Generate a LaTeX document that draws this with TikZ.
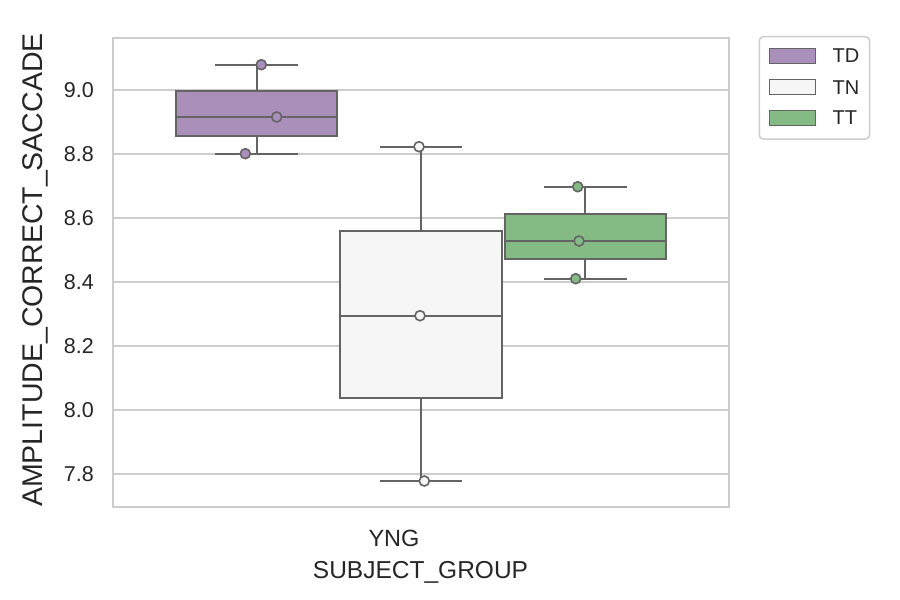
\documentclass[tikz,border=0pt]{standalone}
\usepackage{fontspec}
\setmainfont{Liberation Sans}
\definecolor{tdc}{RGB}{171,143,187}
\definecolor{tnc}{RGB}{246,246,246}
\definecolor{ttc}{RGB}{132,187,132}
\definecolor{linec}{RGB}{100,100,100}
\definecolor{gridc}{RGB}{204,204,204}
\definecolor{txtc}{RGB}{38,38,38}
\tikzset{
  gridl/.style={draw=gridc, line width=1.5pt},
  spine/.style={draw=gridc, line width=2pt},
  boxl/.style={draw=linec, line width=2pt},
  whisk/.style={draw=linec, line width=2pt},
  dotpt/.style={circle, draw=linec, line width=1.6pt, minimum size=10pt, inner sep=0pt},
  ticklab/.style={text=txtc, font=\fontsize{21.5}{24}\selectfont, inner sep=0pt},
  axlab/.style={text=txtc, inner sep=0pt},
  legpatch/.style={draw=linec, line width=0.8pt},
  legtxt/.style={text=txtc, font=\fontsize{20}{22}\selectfont, inner sep=0pt, anchor=west},
}
\begin{document}
\begin{tikzpicture}[x=1pt,y=-1pt]
\useasboundingbox (0,0) rectangle (900,600);
\fill[white] (0,0) rectangle (900,600);
% grid
\foreach \k in {0,...,6} \draw[gridl] (113,90+64*\k) -- (729,90+64*\k);
% spines
\draw[spine] (113,38) rectangle (729,507);
% y tick labels
\node[ticklab, anchor=east] (t90) at (94,90) {9.0};
\node[ticklab, anchor=east] (t88) at (94,154) {8.8};
\node[ticklab, anchor=east] (t86) at (94,218) {8.6};
\node[ticklab, anchor=east] (t84) at (94,282) {8.4};
\node[ticklab, anchor=east] (t82) at (94,346) {8.2};
\node[ticklab, anchor=east] (t80) at (94,410) {8.0};
\node[ticklab, anchor=east] (t78) at (94,474) {7.8};
% axis labels
\node[axlab, anchor=base, rotate=90, font=\fontsize{28.5}{30}\selectfont] (ylab) at (42,270) {AMPLITUDE\_CORRECT\_SACCADE};
\node[axlab, anchor=base, font=\fontsize{23.5}{26}\selectfont] (xtick) at (394,546.5) {YNG};
\node[axlab, anchor=base, font=\fontsize{24.5}{26}\selectfont] (xlab) at (420.5,578.3) {SUBJECT\_GROUP};
% TD box
\draw[whisk] (256.5,90.7) -- (256.5,64.7);
\draw[whisk] (215,64.7) -- (297.5,64.7);
\draw[whisk] (256.5,136) -- (256.5,153.7);
\draw[whisk] (215,153.7) -- (297.5,153.7);
\filldraw[boxl, fill=tdc] (175.7,90.7) rectangle (337.3,136);
\draw[whisk] (175.7,117) -- (337.3,117);
\node[dotpt, fill=tdc] (td1) at (261.3,64.7) {};
\node[dotpt, fill=tdc] (td2) at (276.7,117) {};
\node[dotpt, fill=tdc] (td3) at (245.3,153.7) {};
% TN box
\draw[whisk] (420.8,230.7) -- (420.8,146.7);
\draw[whisk] (380,146.7) -- (461.7,146.7);
\draw[whisk] (420.8,397.7) -- (420.8,481);
\draw[whisk] (380,481) -- (461.7,481);
\filldraw[boxl, fill=tnc] (339.7,230.7) rectangle (502,397.7);
\draw[whisk] (339.7,315.7) -- (502,315.7);
\node[dotpt, fill=tnc] (tn1) at (419,146.7) {};
\node[dotpt, fill=tnc] (tn2) at (420,315.7) {};
\node[dotpt, fill=tnc] (tn3) at (424.3,481) {};
% TT box
\draw[whisk] (585.3,213.7) -- (585.3,186.7);
\draw[whisk] (544.3,186.7) -- (626.7,186.7);
\draw[whisk] (585.3,259.3) -- (585.3,278.7);
\draw[whisk] (544.3,278.7) -- (626.7,278.7);
\filldraw[boxl, fill=ttc] (504.7,213.7) rectangle (666,259.3);
\draw[whisk] (504.7,241) -- (666,241);
\node[dotpt, fill=ttc] (tt1) at (577.7,186.7) {};
\node[dotpt, fill=ttc] (tt2) at (579,241) {};
\node[dotpt, fill=ttc] (tt3) at (575.7,278.7) {};
% legend
\filldraw[draw=gridc, fill=white, line width=1.5pt, rounded corners=4pt] (759.3,36.7) rectangle (869.5,139);
\filldraw[legpatch, fill=tdc] (769.3,48.3) rectangle (815.3,63.3);
\filldraw[legpatch, fill=tnc] (769.3,79.8) rectangle (815.3,94.8);
\filldraw[legpatch, fill=ttc] (769.3,110.5) rectangle (815.3,125.5);
\node[legtxt] (lgtd) at (832.5,55.8) {TD};
\node[legtxt] (lgtn) at (832.5,87.3) {TN};
\node[legtxt] (lgtt) at (832.5,118) {TT};
\end{tikzpicture}
\end{document}
